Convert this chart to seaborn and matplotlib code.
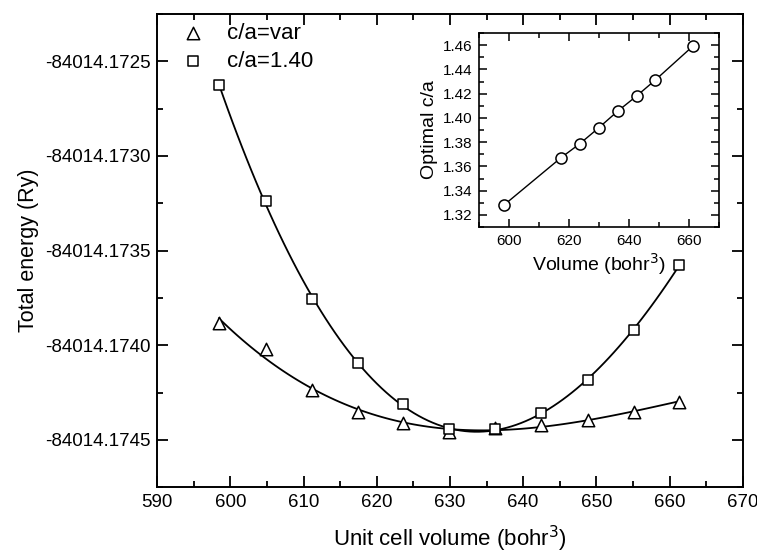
import numpy as np
import pandas as pd
import matplotlib
matplotlib.use("Agg")
import matplotlib.pyplot as plt
import seaborn as sns
from matplotlib.ticker import MultipleLocator, FormatStrFormatter

# data
volume = [598.4, 604.8, 611.1, 617.4, 623.6, 629.9, 636.2, 642.5, 648.8, 655.1, 661.3]
energy_var = [-84014.173883, -84014.174017, -84014.174237, -84014.174354, -84014.174412,
              -84014.174456, -84014.174437, -84014.174421, -84014.174395, -84014.174351,
              -84014.174298]
energy_140 = [-84014.172623, -84014.173237, -84014.173758, -84014.174096, -84014.174311,
              -84014.174442, -84014.174442, -84014.174356, -84014.174184, -84014.173921,
              -84014.173575]
inset_volume = [598.4, 617.4, 623.6, 629.9, 636.2, 642.5, 648.8, 661.3]
inset_ca = [1.3283, 1.3673, 1.3787, 1.3918, 1.4055, 1.4180, 1.4313, 1.4592]

df = pd.DataFrame({"volume": volume, "var": energy_var, "fixed": energy_140})
df_in = pd.DataFrame({"volume": inset_volume, "ca": inset_ca})

sns.set_style("ticks")
plt.rcParams["font.family"] = ["Liberation Sans", "DejaVu Sans"]
plt.rcParams["axes.unicode_minus"] = False
plt.rcParams["axes.linewidth"] = 1.4
for k in ["text.color", "axes.labelcolor", "xtick.color", "ytick.color", "axes.edgecolor"]:
    plt.rcParams[k] = "black"

fig = plt.figure(figsize=(7.57, 5.56), dpi=100)
ax = fig.add_axes([0.2078, 0.1236, 0.7733, 0.8513])

# fitted curves
sns.regplot(data=df, x="volume", y="var", order=3, ci=None, scatter=False, ax=ax,
            line_kws=dict(color="black", lw=1.3, zorder=2))
sns.regplot(data=df, x="volume", y="fixed", order=3, ci=None, scatter=False, ax=ax,
            line_kws=dict(color="black", lw=1.3, zorder=2))

sns.scatterplot(data=df, x="volume", y="var", marker="^", s=80, facecolor="white",
                edgecolor="black", linewidth=1.1, ax=ax, zorder=3, label="c/a=var")
sns.scatterplot(data=df, x="volume", y="fixed", marker="s", s=45, facecolor="white",
                edgecolor="black", linewidth=1.1, ax=ax, zorder=4, label="c/a=1.40")

ax.set_xlim(590, 670)
ax.set_ylim(-84014.17475, -84014.17225)
ax.xaxis.set_major_locator(MultipleLocator(10))
ax.xaxis.set_minor_locator(MultipleLocator(5))
ax.yaxis.set_major_locator(MultipleLocator(0.0005))
ax.yaxis.set_minor_locator(MultipleLocator(0.00025))
ax.yaxis.set_major_formatter(FormatStrFormatter("%.4f"))
ax.tick_params(which="both", direction="in", top=True, right=True, width=1.3)
ax.tick_params(which="major", length=8, labelsize=13.5, pad=5)
ax.tick_params(which="minor", length=4.5)
ax.set_xlabel("Unit cell volume (bohr$^3$)", fontsize=16, labelpad=9)
ax.set_ylabel("Total energy (Ry)", fontsize=15.5, labelpad=4)

leg = ax.legend(loc="upper left", frameon=False, fontsize=16, handletextpad=0.76,
                borderaxespad=0, labelspacing=0.3, handlelength=1.5,
                bbox_to_anchor=(0.018, 1.0))

# inset
axin = fig.add_axes([0.6328, 0.5917, 0.3170, 0.3489])
sns.lineplot(data=df_in, x="volume", y="ca", marker="o", color="black", lw=1.0,
             markersize=8, markerfacecolor="white", markeredgecolor="black",
             markeredgewidth=1.1, ax=axin)
axin.set_xlim(590, 670)
axin.set_ylim(1.31, 1.47)
axin.xaxis.set_major_locator(MultipleLocator(20))
axin.xaxis.set_minor_locator(MultipleLocator(10))
axin.yaxis.set_major_locator(MultipleLocator(0.02))
axin.yaxis.set_minor_locator(MultipleLocator(0.01))
axin.yaxis.set_major_formatter(FormatStrFormatter("%.2f"))
axin.tick_params(which="both", direction="in", top=True, right=True, width=1.1)
axin.tick_params(which="major", length=6, labelsize=11, pad=5)
axin.tick_params(which="minor", length=3.5)
for sp in axin.spines.values():
    sp.set_linewidth(1.2)
axin.set_xlabel("Volume (bohr$^3$)", fontsize=14, labelpad=2)
axin.set_ylabel("Optimal c/a", fontsize=14, labelpad=3)

fig.savefig("out.png", dpi=100)
